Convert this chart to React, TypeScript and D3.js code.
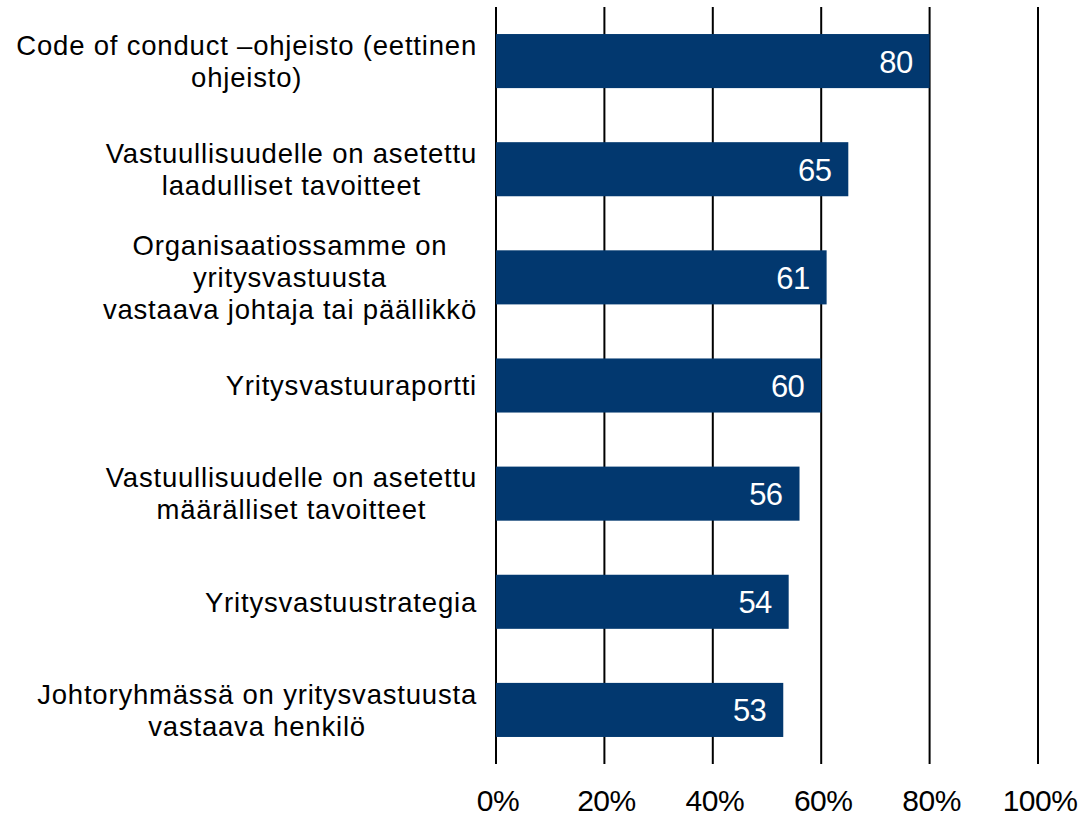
import React, { useEffect, useRef } from "react";
import * as d3 from "d3";

const categories = [
  ["Code of conduct \u2013ohjeisto (eettinen", "ohjeisto)"],
  ["Vastuullisuudelle on asetettu", "laadulliset tavoitteet"],
  ["Organisaatiossamme on", "yritysvastuusta", "vastaava johtaja tai päällikkö"],
  ["Yritysvastuuraportti"],
  ["Vastuullisuudelle on asetettu", "määrälliset tavoitteet"],
  ["Yritysvastuustrategia"],
  ["Johtoryhmässä on yritysvastuusta", "vastaava henkilö"],
];
const values = [80, 65, 61, 60, 56, 54, 53];
const ticks = [0, 20, 40, 60, 80, 100];

const FONT = "'Liberation Sans', Arial, sans-serif";

export default function App() {
  const svgRef = useRef<SVGSVGElement>(null);

  useEffect(() => {
    const width = 1081;
    const height = 818;
    const left = 496;
    const right = 1038;
    const top = 7;
    const bottom = 764;

    const svg = d3.select(svgRef.current);
    svg.selectAll("*").remove();

    const x = d3.scaleLinear().domain([0, 100]).range([left, right]);
    const y = d3.scaleBand<number>()
      .domain(d3.range(values.length))
      .range([top, bottom])
      .paddingInner(0.5)
      .paddingOuter(0.25);

    // gridlines
    svg.append("g")
      .selectAll("line")
      .data(ticks)
      .enter()
      .append("line")
      .attr("x1", d => x(d))
      .attr("x2", d => x(d))
      .attr("y1", top)
      .attr("y2", bottom)
      .attr("stroke", "#000")
      .attr("stroke-width", 2);

    // bars
    svg.append("g")
      .selectAll("rect")
      .data(values)
      .enter()
      .append("rect")
      .attr("x", x(0))
      .attr("y", (d, i) => y(i)!)
      .attr("width", d => x(d) - x(0))
      .attr("height", y.bandwidth())
      .attr("fill", "#02386F");

    // value labels
    svg.append("g")
      .selectAll("text")
      .data(values)
      .enter()
      .append("text")
      .attr("x", d => x(d) - 17)
      .attr("y", (d, i) => y(i)! + y.bandwidth() / 2 + 11.5)
      .attr("text-anchor", "end")
      .attr("fill", "#fff")
      .style("font-family", FONT)
      .style("font-size", "31px")
      .style("letter-spacing", "-0.6px")
      .text(d => d);

    // tick labels
    svg.append("g")
      .selectAll("text")
      .data(ticks)
      .enter()
      .append("text")
      .attr("x", d => x(d) + 2)
      .attr("y", 811)
      .attr("text-anchor", "middle")
      .attr("fill", "#000")
      .style("font-family", FONT)
      .style("font-size", "30px")
      .style("letter-spacing", "-0.5px")
      .text(d => `${d}%`);

    // category labels, lines centred on each other, block right-aligned
    const labelRight = 477;
    const lineH = 32;
    categories.forEach((lines, i) => {
      const cy = y(i)! + y.bandwidth() / 2;
      const g = svg.append("g");
      const texts = g.selectAll("text")
        .data(lines)
        .enter()
        .append("text")
        .attr("x", 0)
        .attr("y", (d, j) => cy + 9.8 + (j - (lines.length - 1) / 2) * lineH)
        .attr("text-anchor", "middle")
        .attr("fill", "#000")
        .style("font-family", FONT)
        .style("font-size", "27.5px")
        .style("letter-spacing", "0.8px")
        .text(d => d);
      let maxW = 0;
      texts.each(function () {
        maxW = Math.max(maxW, (this as SVGTextElement).getComputedTextLength());
      });
      g.attr("transform", `translate(${labelRight - maxW / 2},0)`);
    });

    svg.attr("width", width).attr("height", height);
  }, []);

  return (
    <svg
      ref={svgRef}
      width={1081}
      height={818}
      style={{ position: "absolute", left: 0, top: 0, background: "#fff" }}
    />
  );
}
